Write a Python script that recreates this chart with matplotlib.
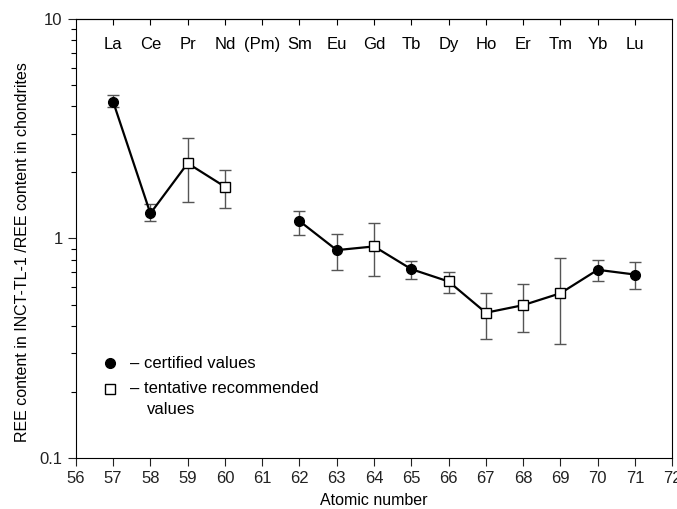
import numpy as np
import matplotlib
matplotlib.use("Agg")
import matplotlib.pyplot as plt
from matplotlib.ticker import FixedLocator, NullFormatter, LogLocator

plt.rcParams["font.family"] = ["Liberation Sans", "DejaVu Sans"]
plt.rcParams["font.size"] = 11.5

# REE data (chondrite-normalised)
elements = ["La", "Ce", "Pr", "Nd", "(Pm)", "Sm", "Eu", "Gd", "Tb", "Dy", "Ho", "Er", "Tm", "Yb", "Lu"]
label_z = [57, 58, 59, 60, 61, 62, 63, 64, 65, 66, 67, 68, 69, 70, 71]

z = [57, 58, 59, 60, 62, 63, 64, 65, 66, 67, 68, 69, 70, 71]
value = [4.2, 1.30, 2.20, 1.72, 1.20, 0.885, 0.92, 0.725, 0.637, 0.459, 0.497, 0.563, 0.72, 0.685]
err_hi = [4.5, 1.43, 2.88, 2.04, 1.34, 1.05, 1.17, 0.79, 0.707, 0.566, 0.619, 0.813, 0.796, 0.783]
err_lo = [3.95, 1.20, 1.47, 1.38, 1.04, 0.717, 0.676, 0.657, 0.562, 0.347, 0.374, 0.332, 0.643, 0.590]
certified = [True, True, False, False, True, True, False, True, False, False, False, False, True, True]

fig = plt.figure(figsize=(6.77, 5.09), dpi=100)
ax = fig.add_axes([0.112, 0.1, 0.881, 0.863])

z = np.array(z)
value = np.array(value)
yerr = [value - np.array(err_lo), np.array(err_hi) - value]
ax.errorbar(z, value, yerr=yerr, fmt="none", ecolor="#555555", elinewidth=1.0,
            capsize=4, capthick=1.0, zorder=1)

# line with gap at Pm
seg1 = z <= 60
seg2 = z >= 62
ax.plot(z[seg1], value[seg1], color="black", lw=1.6, zorder=2)
ax.plot(z[seg2], value[seg2], color="black", lw=1.6, zorder=2)

cert = np.array(certified)
ax.plot(z[cert], value[cert], "o", color="black", ms=7, zorder=3)
ax.plot(z[~cert], value[~cert], "s", mfc="white", mec="black", mew=1.0, ms=6.5, zorder=3)

ax.set_yscale("log")
ax.set_ylim(0.1, 10)
ax.set_xlim(56, 72)
ax.set_xticks(range(56, 73))
ax.yaxis.set_major_locator(FixedLocator([0.1, 1, 10]))
ax.set_yticklabels(["0.1", "1", "10"])
ax.yaxis.set_minor_locator(LogLocator(base=10, subs=np.arange(2, 10)))
ax.yaxis.set_minor_formatter(NullFormatter())
ax.tick_params(axis="both", which="major", direction="out", length=6, width=0.8,
               labelsize=12, colors="#222222")
ax.tick_params(axis="y", which="minor", direction="out", length=3.5, width=0.8)
ax.tick_params(axis="x", which="minor", bottom=False)

top = ax.secondary_xaxis("top")
top.set_xticks(label_z)
top.tick_params(direction="in", length=4, labeltop=False)

for s, xz in zip(elements, label_z):
    ax.text(xz, 0.942, s, transform=ax.get_xaxis_transform(), ha="center", va="center", fontsize=12)

ax.set_xlabel("Atomic number", fontsize=11.5, labelpad=5)
ax.set_ylabel("REE content in INCT-TL-1 /REE content in chondrites", fontsize=11.5)
ax.yaxis.set_label_coords(-0.077, 0.47)

# legend drawn as text
ax.plot([56.92], [0.27], "o", color="black", ms=7, clip_on=False)
ax.plot([56.92], [0.207], "s", mfc="white", mec="black", mew=1.0, ms=6.5, clip_on=False)
ax.text(57.45, 0.27, "\u2013 certified values", va="center", fontsize=12)
ax.text(57.45, 0.207, "\u2013 tentative recommended", va="center", fontsize=12)
ax.text(57.92, 0.166, "values", va="center", fontsize=12)

plt.savefig("out.png", dpi=100)
plt.close()
